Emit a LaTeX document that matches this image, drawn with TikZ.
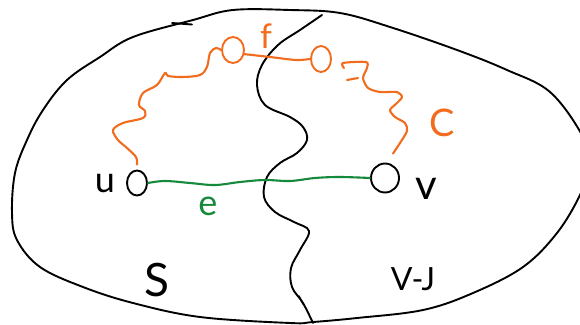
\documentclass[tikz,border=0pt]{standalone}
\usepackage{fontspec}
\setmainfont{Lato}
\usetikzlibrary{shapes.geometric}
\definecolor{penorange}{RGB}{242,108,30}
\definecolor{pengreen}{RGB}{22,138,60}
\begin{document}
\begin{tikzpicture}[x=1pt,y=-1pt, line cap=round, line join=round,
  ink/.style={line width=1.9pt, black},
  oink/.style={line width=2.1pt, penorange},
  gink/.style={line width=2.1pt, pengreen},
  vtx/.style={ellipse, draw, inner sep=0pt, line width=1.9pt},
  lbl/.style={inner sep=0pt, font=\fontsize{36}{42}\selectfont}]
\useasboundingbox (0,0) rectangle (580,324);
\fill[white] (0,0) rectangle (580,324);

% outer set
\draw[ink] plot[smooth cycle, tension=0.6] coordinates {
  (290,10) (340,13) (390,27) (457,50) (507,70) (550,92) (582,135) (590,165)
  (580,195) (557,233) (523,267) (473,293) (423,310) (357,318) (313,322)
  (290,323) (200,317) (133,303) (83,287) (40,267) (17,240) (12,213) (15,173)
  (27,140) (43,110) (67,80) (100,57) (133,37) (193,20) (233,10)};
\draw[ink] (172,23) -- (192,24.5);

% cut
\draw[ink] plot[smooth, tension=0.6] coordinates {
  (322,15) (300,30) (278,45) (262,65) (257,85) (265,105) (290,117)
  (303,127) (307,140) (297,153) (280,163) (267,177) (264,197) (275,212)
  (294,222) (309,231) (300,250) (291,268) (292,287) (303,303) (313,323)};
\draw[ink, line width=1.4pt] (299,296) -- (303,304);

% vertices
\node[vtx, minimum width=20pt, minimum height=25pt] (u) at (137,183) {};
\node[vtx, minimum width=28pt, minimum height=29pt] (v) at (385,178) {};
\node[vtx, draw=penorange, minimum width=22pt, minimum height=26pt] (x) at (233,50) {};
\node[vtx, draw=penorange, minimum width=20pt, minimum height=26pt] (y) at (321,59) {};

% labels
\node[lbl] (ul) at (105,184) {u};
\node[lbl, font=\fontsize{42}{48}\selectfont] (vl) at (426,189) {v};
\node[lbl, pengreen] (el) at (208,206) {e};
\node[lbl, penorange, font=\fontsize{34}{40}\selectfont] (fl) at (266,36) {f};
\node[lbl, penorange, font=\fontsize{38}{44}\selectfont] (cl) at (442,123) {C};
\node[lbl, font=\fontsize{46}{50}\selectfont] (sl) at (157,280) {S};
\node[lbl, font=\fontsize{32}{38}\selectfont] (vsl) at (413,279) {V-J};

% edge e
\draw[gink] plot[smooth, tension=0.6] coordinates {
  (u.east) (165,181) (190,183) (215,185) (240,182) (265,180) (290,181)
  (315,178) (340,177) (v.west)};

% edge f
\draw[oink] plot[smooth, tension=0.5] coordinates {
  (x.-20) (270,57) (296,60) (y.west)};

% path u -> x
\draw[oink] plot[smooth, tension=0.55] coordinates {
  ([yshift=5pt]u.north) (136,157) (127,148) (118,140) (113,130) (123,123)
  (143,118) (145,111) (139,105) (143,93) (157,85) (165,73) (168,76)
  (183,77) (200,75) (207,67) (210,53) (216,48) (x.west)};

% path y -> v
\draw[oink] plot[smooth, tension=0.45] coordinates {
  ([xshift=12pt,yshift=-9pt]y.east) (343,63) (366,62) (367,68) (363,78)
  (368,88) (380,92) (397,92) (402,97) (397,103) (390,110) (395,117)
  (405,123) (407,131) (400,143) ([xshift=8pt,yshift=9pt]v.north)};
\draw[oink] (347,80) -- (358,78);
\end{tikzpicture}
\end{document}
